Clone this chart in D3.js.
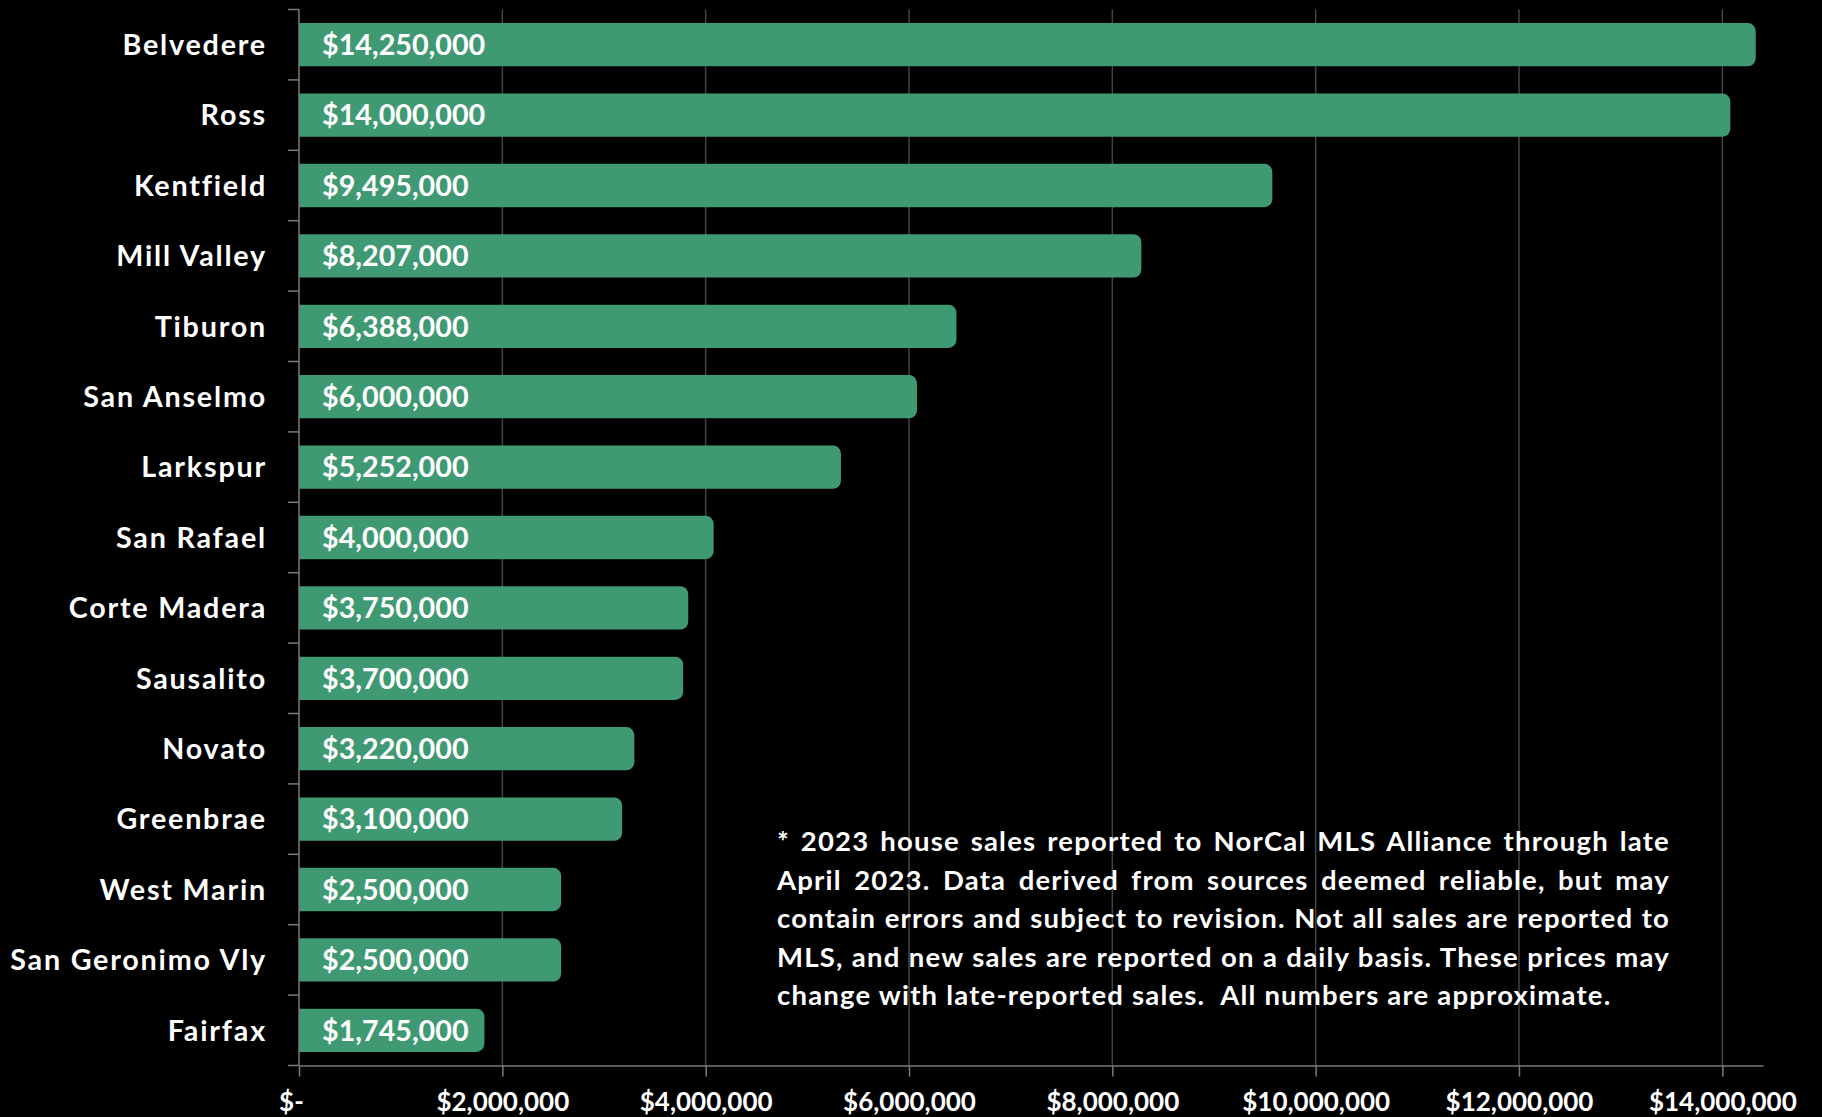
<!DOCTYPE html>
<html>
<head>
<meta charset="utf-8">
<script src="https://cdn.jsdelivr.net/npm/d3@7"></script>
<style>
  html, body { margin: 0; padding: 0; background: #000; }
  svg { display: block; }
  text { font-family: Lato, "Open Sans", sans-serif; font-weight: 700; fill: #fff; }
</style>
</head>
<body>
<svg id="chart" width="1822" height="1117"></svg>
<script>
// Top sale price per Marin town, 2023
const towns = ["Belvedere", "Ross", "Kentfield", "Mill Valley", "Tiburon", "San Anselmo", "Larkspur",
  "San Rafael", "Corte Madera", "Sausalito", "Novato", "Greenbrae", "West Marin", "San Geronimo Vly", "Fairfax"];
const prices = [14250000, 14000000, 9495000, 8207000, 6388000, 6000000, 5252000,
  4000000, 3750000, 3700000, 3220000, 3100000, 2500000, 2500000, 1745000];
const tickValues = [0, 2000000, 4000000, 6000000, 8000000, 10000000, 12000000, 14000000];
const tickLabels = ["$-", "$2,000,000", "$4,000,000", "$6,000,000", "$8,000,000", "$10,000,000", "$12,000,000", "$14,000,000"];
const noteLines = [
  "* 2023 house sales reported to NorCal MLS Alliance through late",
  "April 2023. Data derived from sources deemed reliable, but may",
  "contain errors and subject to revision. Not all sales are reported to",
  "MLS, and new sales are reported on a daily basis. These prices may",
  "change with late-reported sales.  All numbers are approximate."
];

const svg = d3.select("#chart");
const W = 1822, H = 1117;
svg.append("rect").attr("width", W).attr("height", H).attr("fill", "#000");

const plot = { left: 299, right: 1763, top: 9.5, bottom: 1065.5 };

const x = d3.scaleLinear().domain([0, 14400000]).range([plot.left, plot.right]);
const y = d3.scaleBand().domain(towns).range([plot.top, plot.bottom])
  .paddingInner(0.385).paddingOuter(0.1925);

const fmt = v => "$" + d3.format(",")(v);
const labelFor = d3.scaleOrdinal().domain(tickValues).range(tickLabels);

// vertical gridlines
svg.append("g").selectAll("line")
  .data(tickValues.filter(d => d > 0))
  .join("line")
  .attr("x1", d => x(d)).attr("x2", d => x(d))
  .attr("y1", plot.top).attr("y2", plot.bottom)
  .attr("stroke", "#434343").attr("stroke-width", 1.5);

// bars: square at the axis, rounded cap on the right
const r = 8;
function barPath(x0, x1, y0, h) {
  return `M${x0},${y0}H${x1 - r}A${r},${r} 0 0 1 ${x1},${y0 + r}V${y0 + h - r}A${r},${r} 0 0 1 ${x1 - r},${y0 + h}H${x0}Z`;
}
const rows = towns.map((t, i) => ({ town: t, price: prices[i] }));
svg.append("g").selectAll("path")
  .data(rows)
  .join("path")
  .attr("d", d => barPath(x(0), x(d.price) + r, y(d.town), y.bandwidth()))
  .attr("fill", "#3f9973");

// value labels inside bars
svg.append("g").selectAll("text")
  .data(rows)
  .join("text")
  .attr("x", x(0) + 23)
  .attr("y", d => y(d.town) + y.bandwidth() / 2)
  .attr("dy", "0.36em")
  .style("font-size", "28.7px")
  .text(d => fmt(d.price));

// category axis: line, tick marks between categories, labels
const gap = (y.step() - y.bandwidth()) / 2;
const bounds = towns.map(t => y(t) - gap).concat([plot.bottom]);
const yAxisG = svg.append("g");
yAxisG.append("line")
  .attr("x1", x(0)).attr("x2", x(0))
  .attr("y1", plot.top).attr("y2", plot.bottom)
  .attr("stroke", "#7a7a7a").attr("stroke-width", 1.5);
yAxisG.selectAll("line.tick")
  .data(bounds)
  .join("line").attr("class", "tick")
  .attr("x1", x(0) - 11).attr("x2", x(0))
  .attr("y1", d => d).attr("y2", d => d)
  .attr("stroke", "#7a7a7a").attr("stroke-width", 1.5);
yAxisG.selectAll("text")
  .data(towns)
  .join("text")
  .attr("x", x(0) - 32)
  .attr("y", d => y(d) + y.bandwidth() / 2)
  .attr("dy", "0.36em")
  .attr("text-anchor", "end")
  .style("font-size", "28.7px")
  .style("letter-spacing", "1.8px")
  .text(d => d);

// value axis along the bottom
const xAxis = d3.axisBottom(x)
  .tickValues(tickValues)
  .tickFormat(d => labelFor(d))
  .tickSize(11)
  .tickSizeOuter(0)
  .tickPadding(16);
const xg = svg.append("g")
  .attr("transform", `translate(0,${plot.bottom})`)
  .call(xAxis);
xg.select(".domain").attr("stroke", "#7a7a7a").attr("stroke-width", 1.5);
xg.selectAll(".tick line").attr("stroke", "#7a7a7a").attr("stroke-width", 1.5);
xg.selectAll(".tick text")
  .attr("fill", "#fff")
  .attr("dx", d => d === 0 ? -8 : 0)
  .style("font-family", "Lato, 'Open Sans', sans-serif")
  .style("font-weight", 700)
  .style("font-size", "26px");

// footnote, justified between left and right edges
const note = { left: 777, right: 1670, top: 851, lead: 38.5 };
const noteG = svg.append("g");
noteLines.forEach((line, i) => {
  const t = noteG.append("text")
    .attr("x", note.left)
    .attr("y", note.top + i * note.lead)
    .style("font-size", "27.5px")
    .style("letter-spacing", "1.2px")
    .style("white-space", "pre")
    .text(line);
  if (i < noteLines.length - 1) {
    const natural = t.node().getComputedTextLength();
    const gaps = (line.match(/ /g) || []).length;
    const extra = (note.right - note.left - natural) / gaps;
    t.attr("word-spacing", extra);
  }
});
</script>
</body>
</html>
